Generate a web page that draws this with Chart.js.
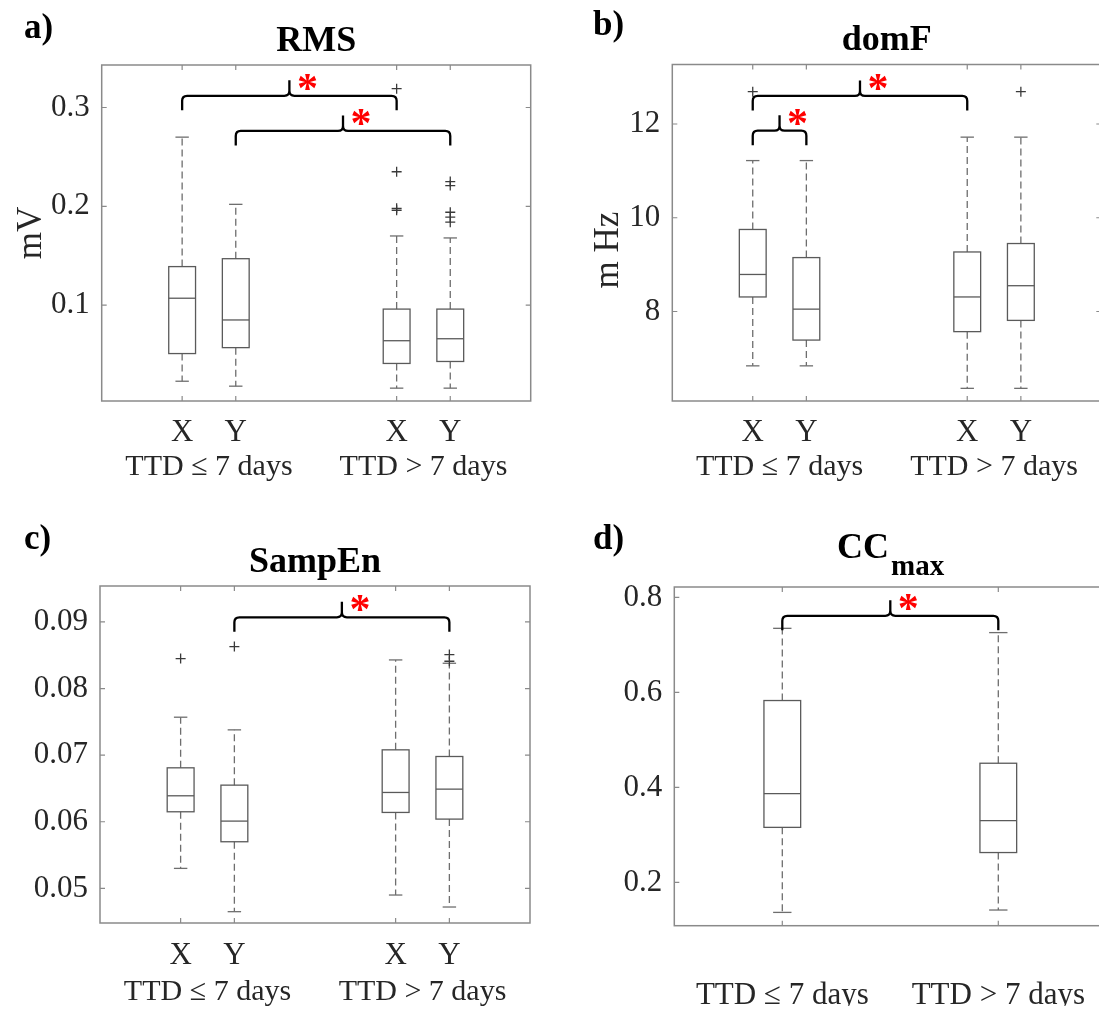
<!DOCTYPE html>
<html><head><meta charset="utf-8">
<script src="https://cdn.jsdelivr.net/npm/chart.js@4.4.0/dist/chart.umd.min.js"></script>
<style>
html,body{margin:0;padding:0;background:#fff;overflow:hidden;width:1099px;height:1010px;}
.p{position:absolute;}
canvas{display:block;}
</style></head><body>
<div class="p" style="left:0;top:0;"><canvas id="ca" width="550" height="500"></canvas></div>
<div class="p" style="left:550px;top:0;"><canvas id="cb" width="570" height="500"></canvas></div>
<div class="p" style="left:0;top:500px;"><canvas id="cc" width="550" height="510"></canvas></div>
<div class="p" style="left:550px;top:500px;"><canvas id="cd" width="640" height="510"></canvas></div>
<script>
// ---------- shared categories ----------
const groupLabels = ['TTD \u2264 7 days', 'TTD > 7 days'];
const channelLabels = ['X', 'Y', 'X', 'Y'];
const positions4 = [1, 2, 5, 6];
const groupPositions4 = [1.5, 5.5];
const positions2 = [1, 2];

// ---------- a) RMS (mV) ----------
const rmsHigh   = [0.270, 0.202, 0.170, 0.168];
const rmsQ3     = [0.139, 0.147, 0.096, 0.096];
const rmsMedian = [0.107, 0.085, 0.064, 0.066];
const rmsQ1     = [0.051, 0.057, 0.041, 0.043];
const rmsLow    = [0.023, 0.018, 0.016, 0.016];
const rmsOutliers = [[], [], [0.319, 0.235, 0.198, 0.196], [0.225, 0.221, 0.194, 0.189, 0.184]];
const rmsTicks = [0.1, 0.2, 0.3];
const rmsBraces = [[1, 5, 0.3118], [2, 6, 0.2763]];

// ---------- b) domF (mHz) ----------
const domfHigh   = [11.22, 11.22, 11.72, 11.72];
const domfQ3     = [9.75, 9.15, 9.27, 9.45];
const domfMedian = [8.79, 8.05, 8.31, 8.55];
const domfQ1     = [8.31, 7.39, 7.57, 7.81];
const domfLow    = [6.84, 6.84, 6.36, 6.36];
const domfOutliers = [[12.69], [], [], [12.69]];
const domfTicks = [8, 10, 12];
const domfBraces = [[1, 5, 12.60], [1, 2, 11.857]];

// ---------- c) SampEn ----------
const sampHigh   = [0.0757, 0.0738, 0.0843, 0.0838];
const sampQ3     = [0.0681, 0.0655, 0.0708, 0.0698];
const sampMedian = [0.0639, 0.0601, 0.0644, 0.0649];
const sampQ1     = [0.0615, 0.0570, 0.0614, 0.0604];
const sampLow    = [0.0530, 0.0465, 0.0490, 0.0472];
const sampOutliers = [[0.0845], [0.0863], [], [0.0851, 0.0841]];
const sampTicks = [0.05, 0.06, 0.07, 0.08, 0.09];
const sampBraces = [[2, 6, 0.0907]];

// ---------- d) CCmax ----------
const ccHigh   = [0.735, 0.726];
const ccQ3     = [0.583, 0.451];
const ccMedian = [0.387, 0.330];
const ccQ1     = [0.316, 0.263];
const ccLow    = [0.137, 0.142];
const ccOutliers = [[], []];
const ccTicks = [0.2, 0.4, 0.6, 0.8];
const ccBraces = [[1, 2, 0.7613]];

// ---------- styling ----------
const FONT = "'Liberation Serif','Times New Roman',serif";
Chart.defaults.font.family = FONT;
Chart.defaults.color = '#262626';
const FRAME = '#8a8a8a';
const BOXC = '#5a5a5a';
const WHISK = '#6e6e6e';
const TITLE_SIZE = 36;

function makePanel(cfg) {
  const s = cfg.stats;
  const outlierPts = [];
  cfg.positions.forEach((p, i) => s.outliers[i].forEach(v => outlierPts.push({x: p, y: v})));

  const plug = {
    id: 'boxes_' + cfg.id,
    beforeDatasetsDraw(chart) {
      const x = chart.scales.x, y = chart.scales.y, ctx = chart.ctx;
      ctx.save();
      const line = (a, b, c, d) => { ctx.beginPath(); ctx.moveTo(a, b); ctx.lineTo(c, d); ctx.stroke(); };
      cfg.positions.forEach((p, i) => {
        const cx = x.getPixelForValue(p);
        const hw = (x.getPixelForValue(p + cfg.boxWidth / 2) - x.getPixelForValue(p - cfg.boxWidth / 2)) / 2;
        const yl = y.getPixelForValue(s.low[i]), y1 = y.getPixelForValue(s.q1[i]);
        const ym = y.getPixelForValue(s.med[i]), y3 = y.getPixelForValue(s.q3[i]);
        const yh = y.getPixelForValue(s.high[i]);
        ctx.lineWidth = 1.3;
        ctx.strokeStyle = WHISK;
        ctx.setLineDash([7, 4]);
        line(cx, y3, cx, yh); line(cx, y1, cx, yl);
        ctx.setLineDash([]);
        line(cx - hw / 2, yh, cx + hw / 2, yh); line(cx - hw / 2, yl, cx + hw / 2, yl);
        ctx.strokeStyle = BOXC;
        ctx.strokeRect(cx - hw, y3, 2 * hw, y1 - y3);
        line(cx - hw, ym, cx + hw, ym);
      });
      ctx.restore();
    },
    afterDraw(chart) {
      const x = chart.scales.x, y = chart.scales.y, ctx = chart.ctx, a = chart.chartArea;
      ctx.save();
      // frame + inner ticks
      ctx.strokeStyle = FRAME; ctx.lineWidth = 1.5;
      ctx.strokeRect(a.left, a.top, a.right - a.left, a.bottom - a.top);
      ctx.lineWidth = 1.2;
      const tl = 5;
      y.ticks.forEach(t => {
        const py = y.getPixelForValue(t.value);
        ctx.beginPath(); ctx.moveTo(a.left, py); ctx.lineTo(a.left + tl, py);
        ctx.moveTo(a.right, py); ctx.lineTo(a.right - tl, py); ctx.stroke();
      });
      cfg.positions.forEach(p => {
        const px = x.getPixelForValue(p);
        ctx.beginPath(); ctx.moveTo(px, a.bottom); ctx.lineTo(px, a.bottom - tl);
        ctx.moveTo(px, a.top); ctx.lineTo(px, a.top + tl); ctx.stroke();
      });
      // significance braces
      ctx.strokeStyle = '#000'; ctx.lineWidth = 2.3; ctx.lineJoin = 'round';
      cfg.braces.forEach(b => {
        const xa = x.getPixelForValue(b[0]), xb = x.getPixelForValue(b[1]);
        const L = y.getPixelForValue(b[2]), m = (xa + xb) / 2, r = 5, drop = 14.5, tip = 15.5;
        ctx.beginPath();
        ctx.moveTo(xa, L + drop); ctx.lineTo(xa, L + r);
        ctx.quadraticCurveTo(xa, L, xa + r, L);
        ctx.lineTo(m - r, L);
        ctx.quadraticCurveTo(m, L, m, L - r);
        ctx.lineTo(m, L - tip);
        ctx.moveTo(m, L - r);
        ctx.quadraticCurveTo(m, L, m + r, L);
        ctx.lineTo(xb - r, L);
        ctx.quadraticCurveTo(xb, L, xb, L + r);
        ctx.lineTo(xb, L + drop);
        ctx.stroke();
        ctx.fillStyle = '#ff0000';
        ctx.font = 'bold 42px ' + FONT;
        ctx.textAlign = 'center'; ctx.textBaseline = 'alphabetic';
        ctx.fillText('*', m + 18, L - 14 + 20);
      });
      // y-axis title
      if (cfg.yTitle) {
        ctx.save();
        ctx.fillStyle = '#262626';
        ctx.font = '35px ' + FONT;
        ctx.translate(cfg.yTitlePos[0], cfg.yTitlePos[1]);
        ctx.rotate(-Math.PI / 2);
        ctx.textAlign = 'center'; ctx.textBaseline = 'alphabetic';
        ctx.fillText(cfg.yTitle, 0, 0);
        ctx.restore();
      }
      // panel letter
      ctx.fillStyle = '#000';
      ctx.font = 'bold 35px ' + FONT;
      ctx.textAlign = 'left'; ctx.textBaseline = 'alphabetic';
      ctx.fillText(cfg.letter, cfg.letterPos[0], cfg.letterPos[1]);
      if (cfg.subTitle) {
        ctx.font = 'bold 36px ' + FONT;
        ctx.fillText(cfg.subTitle[0], cfg.subTitle[2], cfg.subTitle[3]);
        ctx.font = 'bold 29px ' + FONT;
        ctx.fillText(cfg.subTitle[1], cfg.subTitle[4], cfg.subTitle[5]);
      }
      ctx.restore();
    }
  };

  const W = cfg.W, H = cfg.H, P = cfg.plot;
  const scales = {
    x: {
      type: 'linear', min: cfg.xMin, max: cfg.xMax, position: 'bottom', weight: 0,
      grid: {display: false, drawTicks: false}, border: {display: false},
      afterBuildTicks: sc => { sc.ticks = cfg.positions.map(v => ({value: v})); },
      afterFit: sc => { sc.height = cfg.x1h; },
      ticks: {autoSkip: false, maxRotation: 0, minRotation: 0, padding: cfg.x1pad,
        font: {size: 31}, color: '#262626',
        callback: (v, i) => cfg.x1Labels[i]}
    },
    y: {
      type: 'linear', min: cfg.yMin, max: cfg.yMax, position: 'left',
      grid: {display: false, drawTicks: false}, border: {display: false},
      afterBuildTicks: sc => { sc.ticks = cfg.yTicks.map(v => ({value: v})); },
      afterFit: sc => { sc.width = P.left; },
      ticks: {padding: 12, font: {size: 31}, color: '#262626', callback: v => String(v)}
    }
  };
  let xTotal = cfg.x1h;
  if (cfg.groupPositions) {
    scales.x2 = {
      type: 'linear', axis: 'x', min: cfg.xMin, max: cfg.xMax, position: 'bottom', weight: 1,
      grid: {display: false, drawTicks: false}, border: {display: false},
      afterBuildTicks: sc => { sc.ticks = cfg.groupPositions.map(v => ({value: v})); },
      afterFit: sc => { sc.height = cfg.x2h; },
      ticks: {autoSkip: false, maxRotation: 0, minRotation: 0, padding: 0,
        font: {size: 30}, color: '#262626', callback: (v, i) => groupLabels[i]}
    };
    xTotal += cfg.x2h;
  }
  const lh = TITLE_SIZE * 1.2;
  const titleOpts = cfg.title ? {
    display: true, text: cfg.title, fullSize: false, color: '#000',
    font: {size: TITLE_SIZE, weight: 'bold', lineHeight: 1.2},
    padding: {top: cfg.titleCY - lh / 2, bottom: Math.max(0, P.top - (cfg.titleCY - lh / 2) - lh)}
  } : {display: false};

  new Chart(document.getElementById(cfg.id), {
    type: 'scatter',
    data: {datasets: [{
      data: outlierPts, pointStyle: 'cross', radius: 5, hoverRadius: 5,
      borderColor: '#3a3a3a', borderWidth: 1.3, backgroundColor: '#3a3a3a'
    }]},
    options: {
      responsive: false, animation: false, devicePixelRatio: 1,
      layout: {padding: {left: 0, right: W - P.right, top: cfg.title ? 0 : P.top, bottom: H - P.bottom - xTotal}},
      plugins: {legend: {display: false}, tooltip: {enabled: false}, title: titleOpts},
      scales
    },
    plugins: [plug]
  });
}

makePanel({
  id: 'ca', W: 550, H: 500, plot: {left: 101.7, right: 530.7, top: 65, bottom: 401},
  xMin: -0.5, xMax: 7.5, positions: positions4, x1Labels: channelLabels, x1pad: 13, x1h: 48,
  groupPositions: groupPositions4, x2h: 40,
  yMin: 0.003, yMax: 0.343, yTicks: rmsTicks, yTitle: 'mV', yTitlePos: [41, 233],
  title: 'RMS', titleCY: 41.7, letter: 'a)', letterPos: [24, 38],
  boxWidth: 0.5, braces: rmsBraces,
  stats: {low: rmsLow, q1: rmsQ1, med: rmsMedian, q3: rmsQ3, high: rmsHigh, outliers: rmsOutliers}
});
makePanel({
  id: 'cb', W: 570, H: 500, plot: {left: 122.3, right: 551.3, top: 64.5, bottom: 401},
  xMin: -0.5, xMax: 7.5, positions: positions4, x1Labels: channelLabels, x1pad: 13, x1h: 48,
  groupPositions: groupPositions4, x2h: 40,
  yMin: 6.09, yMax: 13.27, yTicks: domfTicks, yTitle: 'm Hz', yTitlePos: [68, 250],
  title: 'domF', titleCY: 41, letter: 'b)', letterPos: [43, 35],
  boxWidth: 0.5, braces: domfBraces,
  stats: {low: domfLow, q1: domfQ1, med: domfMedian, q3: domfQ3, high: domfHigh, outliers: domfOutliers}
});
makePanel({
  id: 'cc', W: 550, H: 510, plot: {left: 100, right: 530, top: 86, bottom: 423},
  xMin: -0.5, xMax: 7.5, positions: positions4, x1Labels: channelLabels, x1pad: 14, x1h: 51,
  groupPositions: groupPositions4, x2h: 36,
  yMin: 0.0448, yMax: 0.0954, yTicks: sampTicks, yTitle: null,
  title: 'SampEn', titleCY: 62.5, letter: 'c)', letterPos: [24, 49],
  boxWidth: 0.5, braces: sampBraces,
  stats: {low: sampLow, q1: sampQ1, med: sampMedian, q3: sampQ3, high: sampHigh, outliers: sampOutliers}
});
makePanel({
  id: 'cd', W: 640, H: 510, plot: {left: 124.3, right: 556.3, top: 87, bottom: 425.7},
  xMin: 0.5, xMax: 2.5, positions: positions2, x1Labels: groupLabels, x1pad: 51.3, x1h: 80,
  groupPositions: null,
  yMin: 0.109, yMax: 0.822, yTicks: ccTicks, yTitle: null,
  title: null, letter: 'd)', letterPos: [43, 49],
  subTitle: ['CC', 'max', 287, 58, 341, 75],
  boxWidth: 0.17, braces: ccBraces,
  stats: {low: ccLow, q1: ccQ1, med: ccMedian, q3: ccQ3, high: ccHigh, outliers: ccOutliers}
});
</script>
</body></html>
